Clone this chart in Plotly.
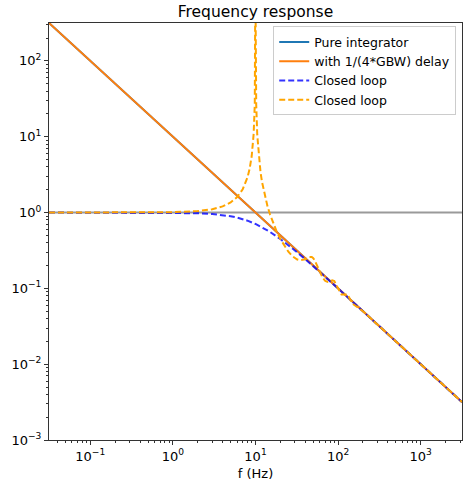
import plotly.graph_objects as go

# ---- data ----
f_open = [0.031623, 0.1, 1.0, 10.0, 100.0, 1000.0, 3162.3]
pure_integrator = [316.23, 100.0, 10.0, 1.0, 0.1, 0.01, 0.0031623]
with_delay = [316.23, 100.0, 10.0, 1.0, 0.1, 0.01, 0.0031623]

f_cl = [0.031623, 0.1, 0.3, 1, 2, 3, 4, 5, 6, 7, 8, 10, 12, 15, 20, 25, 30, 40,
        50, 70, 100, 150, 200, 300, 500, 1000, 2000, 3162.3]
closed_loop = [1.0, 1.0, 0.9996, 0.995, 0.9806, 0.9578, 0.9285, 0.8944, 0.8575,
               0.8192, 0.7809, 0.7071, 0.6402, 0.5547, 0.4472, 0.3714, 0.3162,
               0.2425, 0.1961, 0.1414, 0.0995, 0.0665, 0.04994, 0.03332, 0.02,
               0.01, 0.005, 0.003162]

f_cld = [0.031623, 0.1, 0.3, 1, 2, 3, 4, 5, 6, 7, 8, 8.5, 9, 9.5, 9.8, 9.9, 9.95,
         9.98, 9.99, 10, 10.01, 10.02, 10.05, 10.1, 10.2, 10.5, 11, 11.5, 12, 13,
         14, 15, 16, 18, 20, 22, 25, 28, 30, 32, 35, 38, 40, 42, 45, 48, 50, 52,
         55, 60, 65, 70, 75, 80, 85, 90, 95, 100, 110, 120, 130, 140, 150, 200,
         300, 500, 1000, 2000, 3162.3]
closed_loop_delay = [1.0, 1.0001, 1.001, 1.0108, 1.0446, 1.1059, 1.2041, 1.3572,
                     1.6029, 2.0303, 2.907, 3.794, 5.572, 10.94, 27.06, 53.9, 107.4,
                     268.6, 537.0, 5000.0, 537.0, 268.6, 107.4, 53.6, 26.67, 10.56,
                     5.193, 3.409, 2.52, 1.6366, 1.1997, 0.9413, 0.7717, 0.5655,
                     0.4472, 0.3727, 0.3045, 0.2657, 0.25, 0.2402, 0.2344, 0.2371,
                     0.2425, 0.2497, 0.2592, 0.259, 0.25, 0.2347, 0.2064, 0.1644,
                     0.1381, 0.125, 0.1214, 0.124, 0.1278, 0.125, 0.1134, 0.0995,
                     0.0833, 0.083, 0.0833, 0.0712, 0.0625, 0.0499, 0.0333, 0.02,
                     0.01, 0.005, 0.003166]

x_major = [0.1, 1, 10, 100, 1000]
x_labels = ["10<sup>−1</sup>", "10<sup>0</sup>", "10<sup>1</sup>", "10<sup>2</sup>", "10<sup>3</sup>"]
y_major = [0.001, 0.01, 0.1, 1, 10, 100]
y_labels = ["10<sup>−3</sup>", "10<sup>−2</sup>", "10<sup>−1</sup>", "10<sup>0</sup>", "10<sup>1</sup>", "10<sup>2</sup>"]

x_minor = [k * 10.0 ** n for n in range(-2, 4) for k in range(2, 10)]
y_minor = [k * 10.0 ** n for n in range(-3, 3) for k in range(2, 10)]

fig = go.Figure()
fig.add_hline(y=1, line=dict(color="#9a9a9a", width=2), layer="below")
fig.add_trace(go.Scatter(x=f_open, y=pure_integrator, mode="lines", name="Pure integrator",
                         line=dict(color="#1f77b4", width=2)))
fig.add_trace(go.Scatter(x=f_open, y=with_delay, mode="lines", name="with 1/(4*GBW) delay",
                         line=dict(color="#ff7f0e", width=2)))
fig.add_trace(go.Scatter(x=f_cl, y=closed_loop, mode="lines", name="Closed loop",
                         line=dict(color="rgba(0,0,255,0.8)", width=2, dash="6px,3px")))
fig.add_trace(go.Scatter(x=f_cld, y=closed_loop_delay, mode="lines", name="Closed loop",
                         line=dict(color="#ffa500", width=2, dash="6px,3px")))

axis_common = dict(showline=True, linecolor="#333333", linewidth=1, mirror=True,
                   ticks="outside", ticklen=4, tickcolor="#333333", showgrid=False,
                   zeroline=False, tickfont=dict(size=13, color="black"))
fig.update_xaxes(type="log", range=[-1.5, 3.5], tickvals=x_major, ticktext=x_labels,
                 minor=dict(ticks="outside", ticklen=2, tickcolor="#333333", tickvals=x_minor, showgrid=False),
                 title=dict(text="f (Hz)", font=dict(size=13, color="black"), standoff=6),
                 **axis_common)
fig.update_yaxes(type="log", range=[-3, 2.5], tickvals=y_major, ticktext=y_labels,
                 minor=dict(ticks="outside", ticklen=2, tickcolor="#333333", tickvals=y_minor, showgrid=False),
                 **axis_common)

fig.update_layout(
    width=464, height=482,
    margin=dict(l=49, r=2, t=23, b=42),
    paper_bgcolor="white", plot_bgcolor="white",
    font=dict(family="DejaVu Sans", size=13, color="black"),
    title=dict(text="Frequency response", x=0.5506, xanchor="center", y=0.975, yanchor="middle",
               yref="container", font=dict(size=15.5, color="black")),
    legend=dict(x=0.986, xanchor="right", y=0.992, yanchor="top",
                bgcolor="rgba(255,255,255,0.8)", bordercolor="#cccccc", borderwidth=1,
                font=dict(size=12.5), tracegroupgap=0, itemwidth=30),
    showlegend=True,
)

fig.write_html("out.html")
